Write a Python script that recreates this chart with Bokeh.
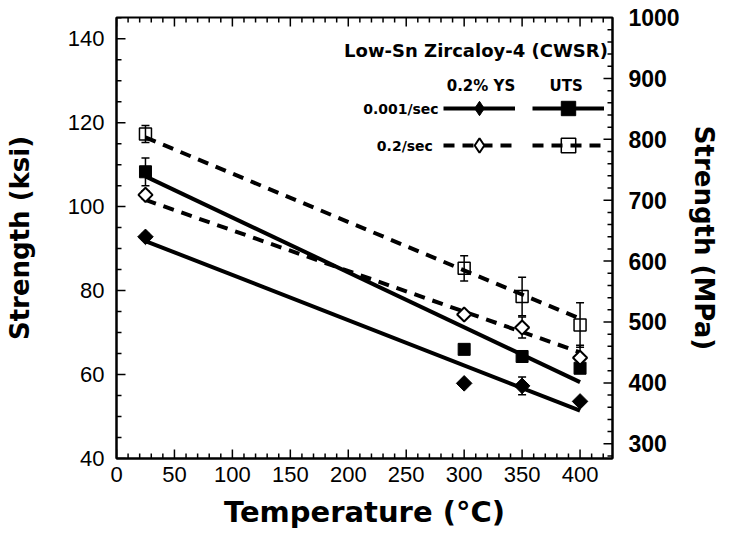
from bokeh.plotting import figure
from bokeh.models import (Range1d, LinearAxis, SingleIntervalTicker, ColumnDataSource, Whisker,
                          TeeHead, Legend, LegendItem, Label)
from bokeh.embed import file_html
from bokeh.resources import INLINE
import math

# ---- data (ksi) ----
temps = [25, 300, 350, 400]
ys_slow = [92.8, 57.9, 57.3, 53.6]
ys_slow_err = [0.8, 0.0, 2.1, 0.0]
uts_slow = [108.3, 66.0, 64.3, 61.5]
uts_slow_err = [3.3, 0.0, 0.0, 0.0]
ys_fast = [102.8, 74.3, 71.2, 64.0]
ys_fast_err = [1.0, 0.0, 2.5, 3.0]
uts_fast = [117.3, 85.3, 78.6, 71.8]
uts_fast_err = [2.0, 3.0, 4.6, 5.3]

fit_temps = [25, 400]
ys_slow_fit = [91.8, 51.4]
uts_slow_fit = [107.2, 58.2]
ys_fast_fit = [101.6, 65.3]
uts_fast_fit = [116.5, 73.3]

KSI_TO_MPA = 6.895
X_MIN, X_MAX = 0, 428
KSI_MIN, KSI_MAX = 40, 145.05

# tick positions
x_major = [0, 50, 100, 150, 200, 250, 300, 350, 400]
x_minor = [v for v in range(10, 430, 10) if v % 50 != 0]
ksi_major = [40, 60, 80, 100, 120, 140]
ksi_minor = [v for v in range(45, 146, 5) if v % 20 != 0]
mpa_major = [300, 400, 500, 600, 700, 800, 900, 1000]
mpa_minor = [v for v in range(280, 1001, 20) if v % 100 != 0]

TICK_FONT = "Liberation Sans"
TITLE_FONT = "DejaVu Sans"
FRAME_W, FRAME_H = 496, 441

p = figure(width=730, height=540, output_backend="svg", toolbar_location=None,
           x_range=Range1d(X_MIN, X_MAX), y_range=Range1d(KSI_MIN, KSI_MAX),
           frame_width=FRAME_W, frame_height=FRAME_H,
           min_border_left=116, min_border_right=118, min_border_top=17, min_border_bottom=82)
p.grid.visible = False
p.outline_line_color = "black"
p.outline_line_width = 2

p.extra_y_ranges = {"mpa": Range1d(KSI_MIN * KSI_TO_MPA, KSI_MAX * KSI_TO_MPA)}


def style_axis(ax, font_size="22px", bold=False, title_size="26px"):
    ax.axis_line_width = 2
    ax.major_tick_in = 0
    ax.major_tick_out = 0
    ax.minor_tick_in = 0
    ax.minor_tick_out = 0
    ax.major_label_text_font = TICK_FONT
    ax.major_label_text_font_size = font_size
    ax.major_label_text_font_style = "bold" if bold else "normal"
    ax.major_label_text_color = "black"
    ax.axis_label_text_font = TITLE_FONT
    ax.axis_label_text_font_size = title_size
    ax.axis_label_text_font_style = "bold"
    ax.axis_label_text_color = "black"


# bottom axis
xa = p.xaxis[0]
xa.ticker = SingleIntervalTicker(interval=50, num_minor_ticks=5)
xa.axis_label = "Temperature (°C)"
style_axis(xa, title_size="29px")
xa.major_label_standoff = 8
xa.axis_label_standoff = 10

# left axis
ya = p.yaxis[0]
ya.ticker = SingleIntervalTicker(interval=20, num_minor_ticks=4)
ya.axis_label = "Strength (ksi)"
style_axis(ya)
ya.major_label_standoff = 12
ya.axis_label_standoff = 30

# right axis
ra = LinearAxis(y_range_name="mpa", ticker=SingleIntervalTicker(interval=100, num_minor_ticks=5),
                axis_label="Strength (MPa)")
style_axis(ra, "23px", True)
ra.major_label_standoff = 16
ra.axis_label_standoff = 6
p.add_layout(ra, "right")

# ---- fit lines ----
l_ys_slow = p.line(fit_temps, ys_slow_fit, line_color="black", line_width=4)
l_uts_slow = p.line(fit_temps, uts_slow_fit, line_color="black", line_width=4)
l_ys_fast = p.line(fit_temps, ys_fast_fit, line_color="black", line_width=4, line_dash="11 8")
l_uts_fast = p.line(fit_temps, uts_fast_fit, line_color="black", line_width=4, line_dash="11 8")


# ---- error bars ----
def add_err(vals, errs):
    src = ColumnDataSource(dict(x=temps, lo=[v - e for v, e in zip(vals, errs)],
                                hi=[v + e for v, e in zip(vals, errs)]))
    w = Whisker(base="x", lower="lo", upper="hi", source=src, line_color="black", line_width=1.5,
                upper_head=TeeHead(size=8, line_width=1.5), lower_head=TeeHead(size=8, line_width=1.5))
    p.add_layout(w)


add_err(uts_fast, uts_fast_err)
add_err(ys_fast, ys_fast_err)
add_err(uts_slow, uts_slow_err)
add_err(ys_slow, ys_slow_err)

# ---- points ----
p.scatter(temps, ys_slow, marker="square", angle=math.pi / 4, size=11,
          fill_color="black", line_color="black", line_width=1)
p.scatter(temps, uts_slow, marker="square", size=12,
          fill_color="black", line_color="black", line_width=1)
p.scatter(temps, ys_fast, marker="square", angle=math.pi / 4, size=10,
          fill_color="white", line_color="black", line_width=2)
p.scatter(temps, uts_fast, marker="square", size=12,
          fill_alpha=0, line_color="black", line_width=1.5)

# legend-only marker renderers (a single NaN row, never visible in the plot)
NAN = [float("nan")]
k_ys_slow = p.scatter(NAN, NAN, marker="diamond", fill_color="black", line_color="black", line_width=1)
k_uts_slow = p.scatter(NAN, NAN, marker="square", fill_color="black", line_color="black", line_width=1)
k_ys_fast = p.scatter(NAN, NAN, marker="diamond", fill_color="white", line_color="black", line_width=2)
k_uts_fast = p.scatter(NAN, NAN, marker="square", fill_alpha=0, line_color="black", line_width=1.5)

# ---- inward tick marks on all four frame edges, as head-less whisker annotations ----
DX = (X_MAX - X_MIN) / FRAME_W
DY = (KSI_MAX - KSI_MIN) / FRAME_H
TICK_W = 1.5


def vticks(xs, y_edge, length_px, direction):
    n = len(xs)
    a, b = y_edge, y_edge + direction * length_px * DY
    src = ColumnDataSource(dict(base=xs, lo=[min(a, b)] * n, hi=[max(a, b)] * n))
    p.add_layout(Whisker(base="base", lower="lo", upper="hi", source=src, dimension="height",
                         lower_head=None, upper_head=None, line_color="black",
                         line_width=TICK_W, level="overlay"))


def hticks(ys, x_edge, length_px, direction):
    n = len(ys)
    a, b = x_edge, x_edge + direction * length_px * DX
    src = ColumnDataSource(dict(base=ys, lo=[min(a, b)] * n, hi=[max(a, b)] * n))
    p.add_layout(Whisker(base="base", lower="lo", upper="hi", source=src, dimension="width",
                         lower_head=None, upper_head=None, line_color="black",
                         line_width=TICK_W, level="overlay"))


vticks(x_major, KSI_MIN, 9, 1)
vticks(x_minor, KSI_MIN, 5, 1)
vticks(x_major, KSI_MAX, 9, -1)
vticks(x_minor, KSI_MAX, 5, -1)
hticks(ksi_major, X_MIN, 9, 1)
hticks(ksi_minor, X_MIN, 5, 1)
hticks([v / KSI_TO_MPA for v in mpa_major], X_MAX, 9, -1)
hticks([v / KSI_TO_MPA for v in mpa_minor], X_MAX, 5, -1)


# ---- legend ----
def make_legend(items, y):
    lg = Legend(items=items, orientation="horizontal", location=(327, y),
                glyph_width=72, glyph_height=36, label_width=0, label_standoff=0,
                label_text_font_size="1px", label_text_alpha=0, spacing=17, padding=0, margin=0,
                border_line_color=None, background_fill_alpha=0)
    p.add_layout(lg)


make_legend([LegendItem(label=" ", renderers=[l_ys_slow, k_ys_slow]),
             LegendItem(label=" ", renderers=[l_uts_slow, k_uts_slow])], 350 - 18)
make_legend([LegendItem(label=" ", renderers=[l_ys_fast, k_ys_fast]),
             LegendItem(label=" ", renderers=[l_uts_fast, k_uts_fast])], 313 - 18)


def add_text(x, y, t, align, size="15px"):
    p.add_layout(Label(x=x, y=y, text=t, text_align=align, text_baseline="middle",
                       text_font=TITLE_FONT, text_font_style="bold", text_font_size=size,
                       text_color="black"))


add_text(424, 137.1, "Low-Sn Zircaloy-4 (CWSR)", "right", "18px")
add_text(314.5, 128.8, "0.2% YS", "center", "15px")
add_text(388, 128.8, "UTS", "center", "15px")
add_text(278, 123.3, "0.001/sec", "right", "14px")
add_text(273, 114.5, "0.2/sec", "right", "14px")

open("out.html", "w").write(file_html(p, INLINE))
